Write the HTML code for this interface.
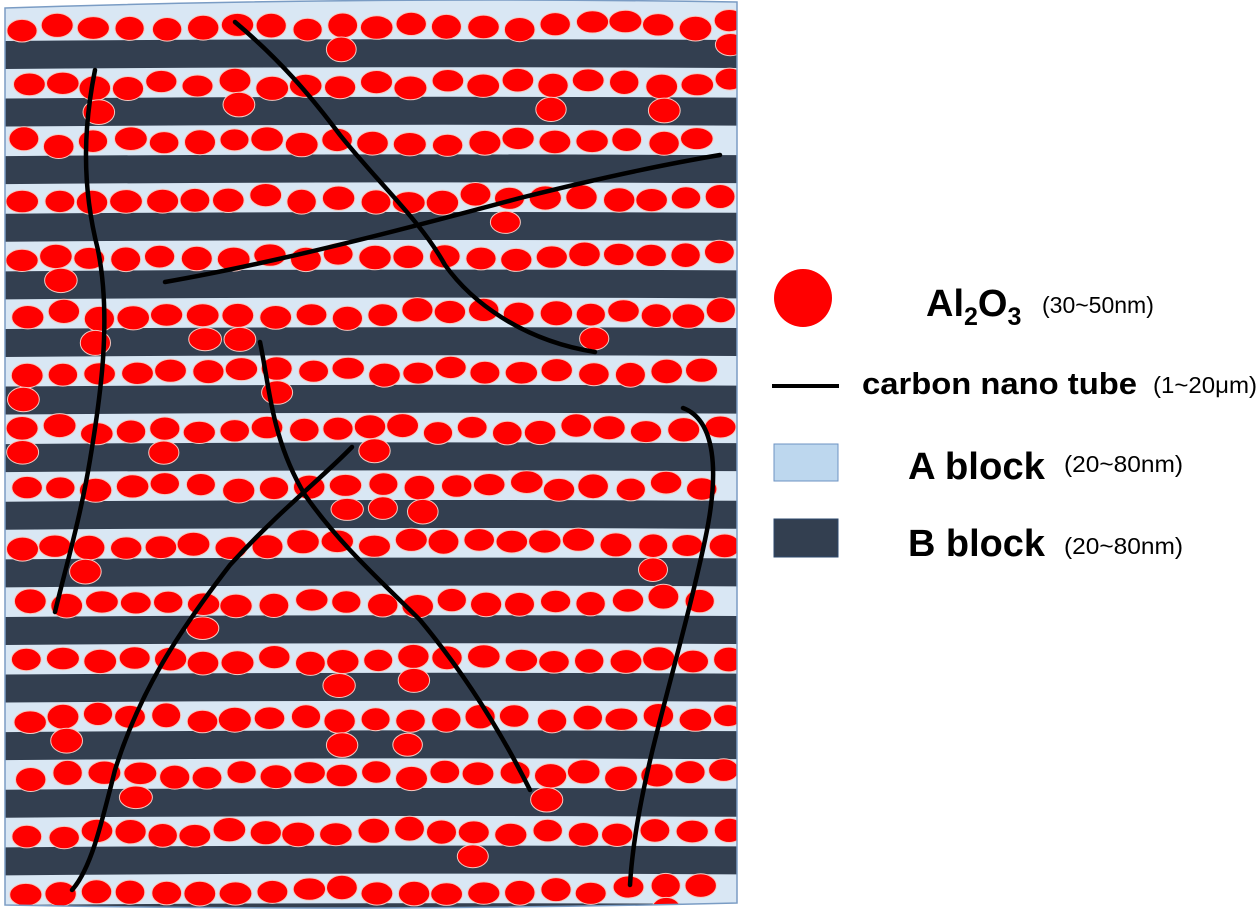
<!DOCTYPE html>
<html><head><meta charset="utf-8"><style>
html,body{margin:0;padding:0;background:#fff;width:1260px;height:911px;overflow:hidden}
svg{display:block}
text{font-family:"Liberation Sans","DejaVu Sans",sans-serif;fill:#000}
</style></head><body>
<svg id="s" width="1260" height="911" viewBox="0 0 1260 911" xmlns="http://www.w3.org/2000/svg">
<defs><clipPath id="c"><path d="M5,8 Q370,-4 737,2 L737,903 Q370,912 5,905 Z"/></clipPath></defs>
<g clip-path="url(#c)">
<rect x="0" y="0" width="740" height="911" fill="#d9e7f4"/>
<g id="stripes"></g>
<g id="dots"></g>
</g>
<path d="M5,8 Q370,-4 737,2 L737,903 Q370,912 5,905 Z" fill="none" stroke="#7a9cc4" stroke-width="1.5"/>
<g fill="none" stroke="#000" stroke-width="4.5" stroke-linecap="round">
<path d="M235,22 C280,60 310,95 340,135 C380,185 420,220 445,265 C470,300 520,340 595,352"/>
<path d="M95,70 C85,120 80,180 98,250 C112,320 100,400 90,460 C80,520 65,570 55,612"/>
<path d="M165,282 C280,262 420,225 520,198 C600,178 660,165 720,155"/>
<path d="M260,342 C270,390 272,440 305,495 C340,545 380,580 420,620 C470,680 505,740 530,790"/>
<path d="M352,447 C320,480 280,510 230,565 C180,630 140,690 115,770 C100,830 90,870 72,890"/>
<path d="M683,408 C715,420 720,470 705,540 C690,610 670,680 655,740 C640,800 632,850 630,885"/>
</g>
<circle cx="803" cy="298" r="29" fill="#ff0000"/>
<text x="926" y="316" font-size="38" font-weight="bold">Al<tspan font-size="25" dy="9">2</tspan><tspan dy="-9">O</tspan><tspan font-size="25" dy="9">3</tspan></text>
<text x="1042" y="313" font-size="23">(30~50nm)</text>
<line x1="772" y1="386" x2="839" y2="386" stroke="#000" stroke-width="4"/>
<text x="862" y="394" font-size="31" font-weight="bold" textLength="275" lengthAdjust="spacingAndGlyphs">carbon nano tube</text>
<text x="1153" y="393" font-size="23" textLength="104" lengthAdjust="spacingAndGlyphs">(1~20μm)</text>
<rect x="774" y="444" width="64" height="37" fill="#bdd7ee" stroke="#6d93c3" stroke-width="1"/>
<text x="908" y="479" font-size="38" font-weight="bold" textLength="137" lengthAdjust="spacingAndGlyphs">A block</text>
<text x="1064" y="472" font-size="23" textLength="119" lengthAdjust="spacingAndGlyphs">(20~80nm)</text>
<rect x="774" y="519" width="64" height="38" fill="#333f50" stroke="#2e4a6e" stroke-width="1"/>
<text x="908" y="556" font-size="38" font-weight="bold" textLength="137" lengthAdjust="spacingAndGlyphs">B block</text>
<text x="1064" y="554" font-size="23" textLength="119" lengthAdjust="spacingAndGlyphs">(20~80nm)</text>
</svg>
<script>
(function(){
var NS="http://www.w3.org/2000/svg";
var st=document.getElementById("stripes"),dt=document.getElementById("dots");
var seed=7;function r(){seed=(seed*16807)%2147483647;return seed/2147483647;}
var P=57.6;
for(var i=0;i<16;i++){
  var y0=41+i*P;
  var p=document.createElementNS(NS,"path");
  p.setAttribute("d","M0,"+(y0)+" Q370,"+(y0-3)+" 740,"+(y0-1)+" L740,"+(y0+27)+" Q370,"+(y0+25)+" 0,"+(y0+28)+" Z");
  p.setAttribute("fill","#333f50");st.appendChild(p);
}
for(var i=0;i<16;i++){
  var cy=27+i*P;
  var x=22+r()*10;
  while(x<730){
    var e=document.createElementNS(NS,"ellipse");
    var yy=cy+(r()-0.5)*9-(x/740)*2;
    e.setAttribute("cx",x.toFixed(1));e.setAttribute("cy",yy.toFixed(1));
    e.setAttribute("rx",(14.5+r()*2).toFixed(1));e.setAttribute("ry",(11+r()*1.5).toFixed(1));
    e.setAttribute("fill","#ff0000");e.setAttribute("stroke","#f5c8c0");e.setAttribute("stroke-width","1");
    dt.appendChild(e);
    if(r()<0.07){
      var f=e.cloneNode();f.setAttribute("cx",(x+(r()-0.5)*10).toFixed(1));f.setAttribute("cy",(yy+24).toFixed(1));dt.appendChild(f);
    }
    x+=32+r()*6;
  }
}
})();
</script>
</body></html>
